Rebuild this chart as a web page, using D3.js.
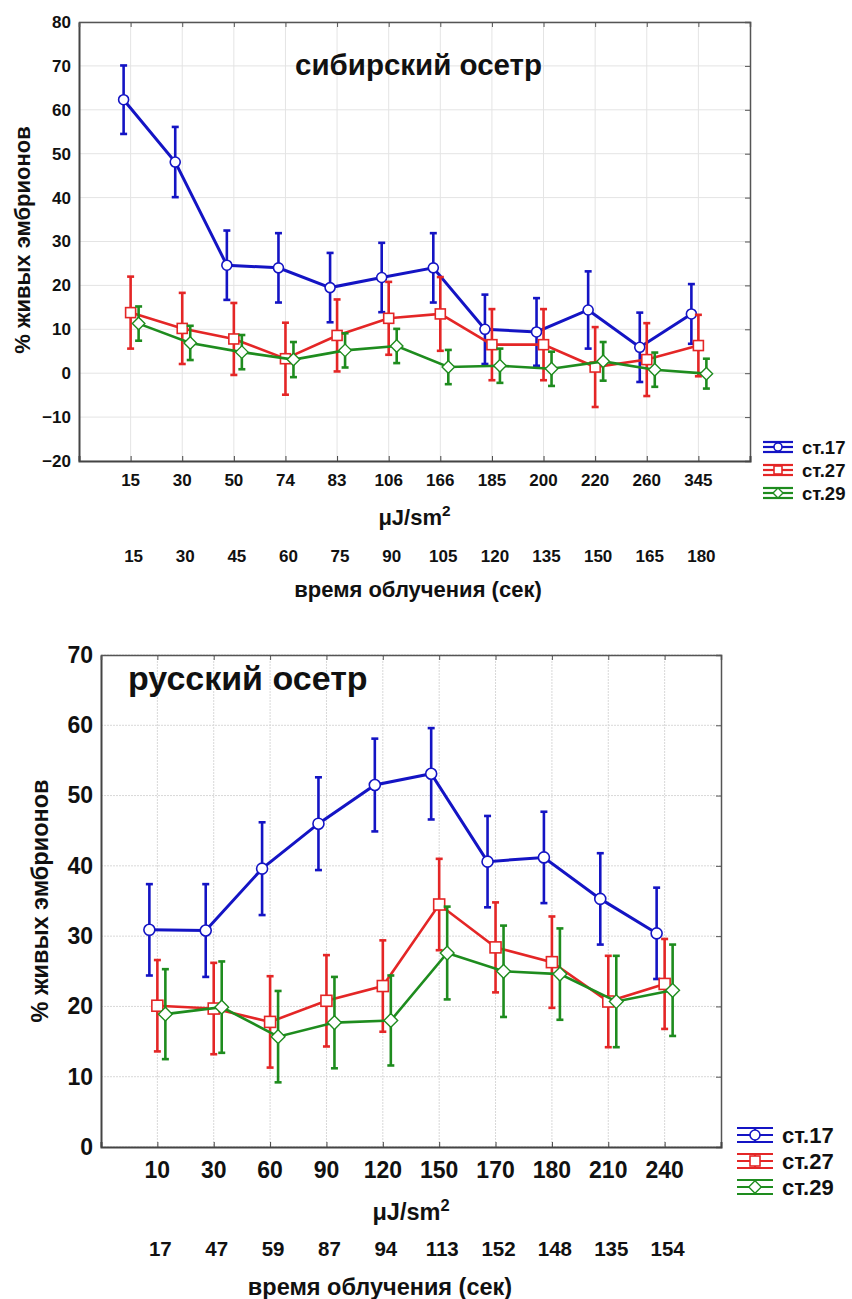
<!DOCTYPE html>
<html>
<head>
<meta charset="utf-8">
<script src="https://cdn.jsdelivr.net/npm/d3@7"></script>
<style>
  body { margin: 0; background: #fff; }
  svg { display: block; }
  text { font-family: "Liberation Sans", Arial, sans-serif; font-weight: bold; fill: #111; }
</style>
</head>
<body>
<script>
// ---- data: сибирский осетр ----
var sibDose = ["15", "30", "50", "74", "83", "106", "166", "185", "200", "220", "260", "345"];
var sibTime = ["15", "30", "45", "60", "75", "90", "105", "120", "135", "150", "165", "180"];
var sib17 = [62.3, 48.1, 24.6, 24.0, 19.5, 21.8, 24.0, 10.0, 9.4, 14.4, 5.9, 13.5];
var sib17err = [7.8, 8.0, 7.9, 7.9, 7.9, 7.9, 7.9, 7.9, 7.7, 8.8, 7.9, 6.8];
var sib27 = [13.8, 10.2, 7.8, 3.3, 8.6, 12.5, 13.5, 6.5, 6.5, 1.4, 3.1, 6.3];
var sib27err = [8.2, 8.1, 8.2, 8.2, 8.2, 8.3, 8.4, 8.1, 8.1, 9.1, 8.3, 7.0];
var sib29 = [11.3, 6.9, 4.8, 3.1, 5.2, 6.2, 1.4, 1.7, 1.0, 2.7, 0.8, -0.1];
var sib29err = [3.9, 3.9, 3.9, 4.0, 3.9, 3.9, 3.9, 3.9, 3.9, 4.4, 3.9, 3.4];
var sibTicks = [-20, -10, 0, 10, 20, 30, 40, 50, 60, 70, 80];

// ---- data: русский осетр ----
var rusDose = ["10", "30", "60", "90", "120", "150", "170", "180", "210", "240"];
var rusTime = ["17", "47", "59", "87", "94", "113", "152", "148", "135", "154"];
var rus17 = [30.9, 30.8, 39.6, 46.0, 51.5, 53.1, 40.6, 41.2, 35.3, 30.4];
var rus17err = [6.5, 6.6, 6.6, 6.6, 6.6, 6.5, 6.5, 6.5, 6.5, 6.5];
var rus27 = [20.1, 19.7, 17.8, 20.8, 22.9, 34.5, 28.4, 26.3, 20.7, 23.2];
var rus27err = [6.5, 6.5, 6.5, 6.5, 6.5, 6.5, 6.4, 6.5, 6.5, 6.4];
var rus29 = [18.9, 19.9, 15.7, 17.7, 18.0, 27.6, 25.0, 24.6, 20.7, 22.3];
var rus29err = [6.4, 6.5, 6.5, 6.5, 6.4, 6.6, 6.5, 6.5, 6.5, 6.5];
var rusTicks = [0, 10, 20, 30, 40, 50, 60, 70];

var seriesNames = ["ст.17", "ст.27", "ст.29"];
var seriesColors = ["#1414c4", "#e42626", "#1e8c1e"];
var seriesShapes = ["circle", "square", "diamond"];

var svg = d3.select("body").append("svg")
  .attr("width", 852)
  .attr("height", 1299);

function marker(g, shape, x, y, s, color) {
  if (shape == "circle") {
    g.append("circle").attr("cx", x).attr("cy", y).attr("r", s)
      .attr("fill", "#fff").attr("stroke", color).attr("stroke-width", 1.6);
  } else if (shape == "square") {
    g.append("rect").attr("x", x - s).attr("y", y - s).attr("width", 2 * s).attr("height", 2 * s)
      .attr("fill", "#fff").attr("stroke", color).attr("stroke-width", 1.6);
  } else {
    var d = s * 1.25;
    g.append("path").attr("d", "M" + x + "," + (y - d) + "L" + (x + d) + "," + y + "L" + x + "," + (y + d) + "L" + (x - d) + "," + y + "Z")
      .attr("fill", "#fff").attr("stroke", color).attr("stroke-width", 1.4);
  }
}

//draw one panel
function panel(p) {
  var g = svg.append("g");
  var x = d3.scalePoint().domain(p.dose).range([p.left, p.right]).padding(1);
  var y = d3.scaleLinear().domain(p.yDomain).range([p.bottom, p.top]);

  //grid
  g.selectAll(".gx").data(p.dose).enter().append("line")
    .attr("x1", function (d) { return x(d); }).attr("x2", function (d) { return x(d); })
    .attr("y1", p.top).attr("y2", p.bottom)
    .attr("stroke", p.gridColor).attr("stroke-width", 1).attr("stroke-dasharray", p.gridDash);
  g.selectAll(".gy").data(p.ticks).enter().append("line")
    .attr("x1", p.left).attr("x2", p.right)
    .attr("y1", function (d) { return y(d); }).attr("y2", function (d) { return y(d); })
    .attr("stroke", p.gridColor).attr("stroke-width", 1).attr("stroke-dasharray", p.gridDash);

  //axes
  var axL = g.append("g").attr("transform", "translate(" + p.left + ",0)")
    .call(d3.axisLeft(y).tickValues(p.ticks).tickSize(0).tickPadding(8));
  axL.select(".domain").attr("stroke", "#444").attr("stroke-width", 2);
  axL.selectAll("text").style("font-size", p.tickFont + "px");

  var axR = g.append("g").attr("transform", "translate(" + p.right + ",0)")
    .call(d3.axisLeft(y).tickValues(p.ticks).tickSize(5).tickFormat(""));
  axR.select(".domain").attr("stroke", "#555").attr("stroke-width", 1.5);
  axR.selectAll("line").attr("stroke", "#555");

  var axT = g.append("g").attr("transform", "translate(0," + p.top + ")")
    .call(d3.axisBottom(x).tickSize(5).tickFormat(""));
  axT.select(".domain").attr("stroke", "#555").attr("stroke-width", 1.5);
  axT.selectAll("line").attr("stroke", "#555");

  var axB = g.append("g").attr("transform", "translate(0," + p.bottom + ")")
    .call(d3.axisTop(x).tickSize(5).tickFormat(""));
  axB.select(".domain").attr("stroke", "#444").attr("stroke-width", 2);
  axB.selectAll("line").attr("stroke", "#444");

  //x labels, two rows
  g.selectAll(".xl").data(p.dose).enter().append("text")
    .attr("x", function (d) { return x(d); })
    .attr("y", p.row1)
    .attr("text-anchor", "middle")
    .style("font-size", p.tickFont + "px")
    .text(function (d) { return d; });
  g.selectAll(".xl2").data(p.time).enter().append("text")
    .attr("x", function (d, i) { return x(p.dose[i]) + 3; })
    .attr("y", p.row2)
    .attr("text-anchor", "middle")
    .style("font-size", p.row2Font + "px")
    .text(function (d) { return d; });

  var unit = g.append("text").attr("x", (p.left + p.right) / 2).attr("y", p.unitY)
    .attr("text-anchor", "middle").style("font-size", p.labFont + "px");
  unit.append("tspan").text("μJ/sm");
  unit.append("tspan").attr("dy", -p.labFont * 0.4).style("font-size", (p.labFont * 0.7) + "px").text("2");

  g.append("text").attr("x", p.timeX).attr("y", p.timeY)
    .attr("text-anchor", "middle").style("font-size", p.labFont + "px")
    .text("время облучения (сек)");

  g.append("text")
    .attr("transform", "translate(" + p.yLabX + "," + p.yLabY + ") rotate(-90)")
    .attr("text-anchor", "middle").style("font-size", p.labFont + "px")
    .text("% живых эмбрионов");

  g.append("text").attr("x", p.titleX).attr("y", p.titleY)
    .style("font-size", p.titleFont + "px")
    .text(p.title);

  //series
  var line = d3.line();
  p.series.forEach(function (s, k) {
    var color = seriesColors[k];
    var off = p.offsets[k];
    var pts = s.vals.map(function (v, i) { return [x(p.dose[i]) + off, y(v)]; });
    var eg = g.append("g");
    s.vals.forEach(function (v, i) {
      var cx = x(p.dose[i]) + off;
      eg.append("line").attr("x1", cx).attr("x2", cx)
        .attr("y1", y(v - s.err[i])).attr("y2", y(v + s.err[i]))
        .attr("stroke", color).attr("stroke-width", 2.6);
      [v - s.err[i], v + s.err[i]].forEach(function (e) {
        eg.append("line").attr("x1", cx - 3.5).attr("x2", cx + 3.5)
          .attr("y1", y(e)).attr("y2", y(e))
          .attr("stroke", color).attr("stroke-width", 2.6);
      });
    });
    g.append("path").attr("d", line(pts)).attr("fill", "none")
      .attr("stroke", color).attr("stroke-width", k == 0 ? 3 : 2.6);
    pts.forEach(function (pt) { marker(g, seriesShapes[k], pt[0], pt[1], p.mark, color); });
  });

  //legend
  seriesNames.forEach(function (n, k) {
    var cy = p.legY + k * p.legStep;
    var lg = g.append("g");
    var c = seriesColors[k];
    var cx = p.legX + p.legW / 2;
    [-p.legH, 0, p.legH].forEach(function (dy) {
      lg.append("line").attr("x1", p.legX).attr("x2", p.legX + p.legW)
        .attr("y1", cy + dy).attr("y2", cy + dy).attr("stroke", c).attr("stroke-width", 2.2);
    });
    lg.append("line").attr("x1", cx).attr("x2", cx).attr("y1", cy - p.legH).attr("y2", cy + p.legH)
      .attr("stroke", c).attr("stroke-width", 2.2);
    marker(lg, seriesShapes[k], cx, cy, p.legMark, c);
    lg.append("text").attr("x", p.legX + p.legW + 9).attr("y", cy + p.legFont * 0.36)
      .style("font-size", p.legFont + "px").text(n);
  });
}

panel({
  dose: sibDose, time: sibTime, ticks: sibTicks, yDomain: [-20, 80],
  left: 79, right: 750, top: 22, bottom: 461,
  gridColor: "#e4e4e4", gridDash: null,
  tickFont: 17, row2Font: 17, labFont: 22, titleFont: 29.5,
  row1: 486, row2: 562, unitY: 525, timeX: 418, timeY: 597,
  yLabX: 30, yLabY: 240,
  title: "сибирский осетр", titleX: 295, titleY: 75,
  offsets: [-7, 0, 8], mark: 5,
  series: [{ vals: sib17, err: sib17err }, { vals: sib27, err: sib27err }, { vals: sib29, err: sib29err }],
  legX: 763, legW: 30, legH: 5, legY: 447, legStep: 23, legMark: 4, legFont: 18.5
});

panel({
  dose: rusDose, time: rusTime, ticks: rusTicks, yDomain: [0, 70],
  left: 101, right: 721, top: 655, bottom: 1147,
  gridColor: "#d8d8d8", gridDash: "2,1",
  tickFont: 23, row2Font: 20.5, labFont: 23.5, titleFont: 34,
  row1: 1178, row2: 1256, unitY: 1220, timeX: 380, timeY: 1295,
  yLabX: 48, yLabY: 901,
  title: "русский осетр", titleX: 128, titleY: 690,
  offsets: [-8, 0, 8], mark: 5.5,
  series: [{ vals: rus17, err: rus17err }, { vals: rus27, err: rus27err }, { vals: rus29, err: rus29err }],
  legX: 737, legW: 36, legH: 7, legY: 1135, legStep: 26, legMark: 5, legFont: 22
});
</script>
</body>
</html>
